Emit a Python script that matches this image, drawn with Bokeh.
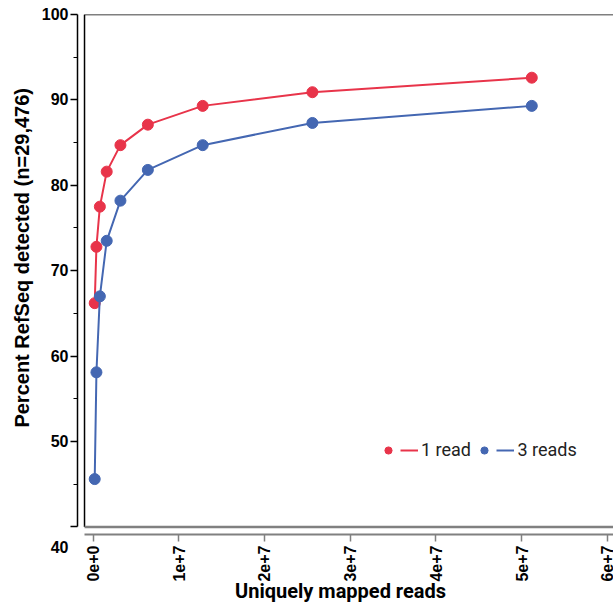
import math
from bokeh.plotting import figure
from bokeh.models import Range1d, FixedTicker, Legend, LegendItem
from bokeh.embed import file_html
from bokeh.resources import INLINE

# ---- data ----
reads = [2e5, 4e5, 8e5, 1.6e6, 3.2e6, 6.4e6, 1.28e7, 2.56e7, 5.12e7]
pct_1_read = [66.2, 72.8, 77.5, 81.6, 84.7, 87.1, 89.3, 90.9, 92.6]
pct_3_reads = [45.6, 58.1, 67.0, 73.5, 78.2, 81.8, 84.7, 87.3, 89.3]
series_names = ["1 read", "3 reads"]
series_colors = ["#e8344a", "#4467b2"]

x_ticks = [0, 10000000, 20000000, 30000000, 40000000, 50000000, 60000000]
x_tick_labels = ["0e+0", "1e+7", "2e+7", "3e+7", "4e+7", "5e+7", "6e+7"]
y_ticks = [40, 50, 60, 70, 80, 90, 100]
y_tick_labels = ["\n\n40", "50", "60", "70", "80", "90", "100"]
y_minor_ticks = [45, 55, 65, 75, 85, 95]

# ---- ranges / frame decoration constants ----
X_START, X_END = -1.809e6, 6.0735e7
Y_START, Y_END = 39.11, 100
BOX_LEFT = -0.99e6
Y_LOW, Y_HIGH = 40, 100

p = figure(width=613, height=607,
           x_range=Range1d(X_START, X_END), y_range=Range1d(Y_START, Y_END),
           output_backend="svg", toolbar_location=None,
           min_border_left=77, min_border_top=14, min_border_right=0, min_border_bottom=73)
p.outline_line_color = None
p.grid.visible = False
p.background_fill_color = "white"

# frame lines (left/top black, bottom gray)
p.line([BOX_LEFT, BOX_LEFT, X_END], [Y_LOW, Y_HIGH, Y_HIGH], line_color="black", line_width=1.5)
p.line([BOX_LEFT, X_END], [Y_LOW, Y_LOW], line_color="#808080", line_width=2.5)

renderers = []
for vals, col in zip([pct_1_read, pct_3_reads], series_colors):
    ln = p.line(reads, vals, line_color=col, line_width=2)
    sc = p.scatter(reads, vals, size=11, fill_color=col, line_color=col)
    renderers.append((sc, ln))

# y axis
ya = p.yaxis[0]
ya.ticker = FixedTicker(ticks=y_ticks, minor_ticks=y_minor_ticks)
ya.bounds = (Y_LOW, Y_HIGH)
ya.major_label_overrides = dict(zip(y_ticks, y_tick_labels))
ya.axis_line_width = 1.5
ya.axis_line_color = "black"
ya.major_tick_in = 0
ya.major_tick_out = 7
ya.minor_tick_in = 0
ya.minor_tick_out = 4
ya.major_tick_line_width = 1.5
ya.major_label_standoff = 2
ya.major_label_text_font = "Liberation Sans"
ya.major_label_text_font_style = "bold"
ya.major_label_text_font_size = "16px"
ya.major_label_text_color = "black"
ya.axis_label = "\u00a0" * 6 + "Percent RefSeq detected (n=29,476)"
ya.axis_label_text_font = "Liberation Sans"
ya.axis_label_text_font_style = "bold"
ya.axis_label_text_font_size = "20px"
ya.axis_label_text_color = "black"
ya.axis_label_standoff = 6

# x axis
xa = p.xaxis[0]
xa.ticker = FixedTicker(ticks=x_ticks, minor_ticks=[])
xa.bounds = (BOX_LEFT, X_END)
xa.major_label_overrides = dict(zip(x_ticks, x_tick_labels))
xa.major_label_orientation = math.pi / 2
xa.axis_line_color = "#808080"
xa.axis_line_width = 2
xa.major_tick_line_color = "#808080"
xa.major_tick_line_width = 1.5
xa.major_tick_in = 0
xa.major_tick_out = 7
xa.major_label_standoff = 4
xa.major_label_text_font = "Liberation Sans"
xa.major_label_text_font_style = "bold"
xa.major_label_text_font_size = "16px"
xa.major_label_text_color = "black"
xa.axis_label = "Uniquely mapped reads" + "\u00a0" * 2
xa.axis_label_text_font = "Roboto"
xa.axis_label_text_font_style = "bold"
xa.axis_label_text_font_size = "20px"
xa.axis_label_text_color = "black"
xa.axis_label_standoff = -6

# legend: dot item then line item for each series
items = []
for name, (sc, ln), pad in zip(series_names, renderers, ["\u00a0", ""]):
    items.append(LegendItem(label="", renderers=[sc]))
    items.append(LegendItem(label=name + pad, renderers=[ln]))
legend = Legend(items=items, orientation="horizontal", location=(302, 74),
                glyph_width=18, glyph_height=20, label_standoff=3, spacing=-3,
                padding=0, margin=0, border_line_color=None, background_fill_alpha=0,
                label_text_font="Roboto", label_text_font_size="18px",
                label_height=20, label_width=0, label_text_color="#222222")
p.add_layout(legend)

open("out.html", "w").write(file_html(p, INLINE))
